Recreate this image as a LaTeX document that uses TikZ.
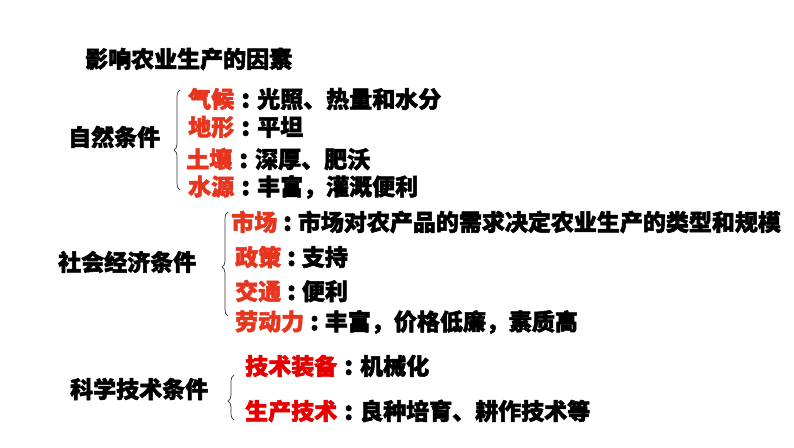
\documentclass[tikz,border=0pt]{standalone}
\usepackage{fontspec}
\setmainfont{Noto Sans CJK SC}[BoldFeatures={FakeBold=2.2}]
\usetikzlibrary{decorations.pathreplacing}
\definecolor{keyred}{HTML}{E8351E}
\definecolor{techred}{HTML}{E60000}
\newcommand{\cln}[1][1em]{\makebox[#1][c]{\fontsize{25}{25}\selectfont:}}
\begin{document}
\begin{tikzpicture}[x=1pt,y=-1pt,
  txt/.style={anchor=west,inner sep=0pt,font=\fontsize{23}{23}\selectfont\bfseries,text=black},
  brc/.style={draw=black!80,line width=0.7pt,decorate,decoration={brace,amplitude=6pt,aspect=#1}}]
\useasboundingbox[fill=white] (0,0) rectangle (794,447);
\node[txt] (title) at (85,59) {影响农业生产的因素};
% natural
\node[txt] (nat) at (68,137) {自然条件};
\coordinate (b1t) at (180,90);
\coordinate (b1b) at (180,190);
\draw[brc=0.4] (b1b) -- (b1t);
\node[txt] (n1) at (188,99) {\textcolor{keyred}{气候}\cln 光照、热量和水分};
\node[txt] (n2) at (188,127) {\textcolor{keyred}{地形}\cln 平坦};
\node[txt] (n3) at (186,159) {\textcolor{keyred}{土壤}\cln 深厚、肥沃};
\node[txt] (n4) at (188,187) {\textcolor{keyred}{水源}\cln 丰富，灌溉便利};
% social
\node[txt] (soc) at (58,262) {社会经济条件};
\coordinate (b2t) at (228,212);
\coordinate (b2b) at (228,316);
\draw[brc=0.47] (b2b) -- (b2t);
\node[txt] (s1) at (231,222) {\textcolor{keyred}{市场}\cln[0.9em]市场对农产品的需求决定农业生产的类型和规模};
\node[txt] (s2) at (235,257) {\textcolor{keyred}{政策}\cln[0.9em]支持};
\node[txt] (s3) at (235,291) {\textcolor{keyred}{交通}\cln[0.9em]便利};
\node[txt] (s4) at (235,322) {\textcolor{keyred}{劳动力}\cln[0.9em]丰富，价格低廉，素质高};
% science
\node[txt] (sci) at (70,389) {科学技术条件};
\coordinate (b3t) at (234,375);
\coordinate (b3b) at (234,420);
\draw[brc=0.42] (b3b) -- (b3t);
\node[txt] (t1) at (245,366) {\textcolor{techred}{技术装备}\cln 机械化};
\node[txt] (t2) at (245,411) {\textcolor{techred}{生产技术}\cln 良种培育、耕作技术等};
\end{tikzpicture}
\end{document}
